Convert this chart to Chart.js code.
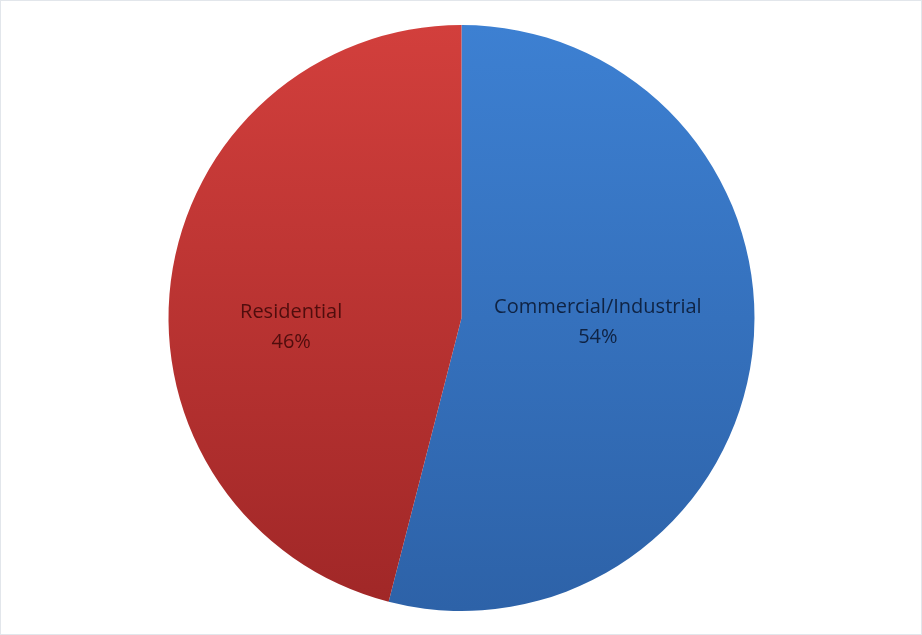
<!DOCTYPE html>
<html>
<head>
<meta charset="utf-8">
<script src="https://cdn.jsdelivr.net/npm/chart.js@4.4.0/dist/chart.umd.min.js"></script>
<style>
  html, body { margin: 0; padding: 0; background: #fff; }
  canvas { display: block; }
</style>
</head>
<body>
<canvas id="pie" width="922" height="635"></canvas>
<script>
// ─── Data ───────────────────────────────────────────────
const labels   = ['Commercial/Industrial', 'Residential'];
const shares   = [54, 46];
const topCols  = ['#3d80d2', '#d23f3c'];
const botCols  = ['#2d62a8', '#a02727'];

// label nudges (px) relative to each arc's centre point
const labelNudge = [[-9, -14], [-25, 28]];

function sliceFill(ctx) {
  const chart = ctx.chart;
  const area = chart.chartArea;
  if (!area) return topCols[ctx.dataIndex];
  const g = chart.ctx.createLinearGradient(0, area.top, 0, area.bottom);
  g.addColorStop(0, topCols[ctx.dataIndex]);
  g.addColorStop(1, botCols[ctx.dataIndex]);
  return g;
}

const frame = {
  id: 'frame',
  afterDraw(chart) {
    const c = chart.ctx;
    c.save();
    c.strokeStyle = '#e2e6eb';
    c.lineWidth = 1;
    c.strokeRect(0.5, 0.5, chart.width - 1, chart.height - 1);
    c.restore();
  },
};

const sliceLabels = {
  id: 'sliceLabels',
  afterDatasetsDraw(chart) {
    const c = chart.ctx;
    const meta = chart.getDatasetMeta(0);
    c.save();
    c.font = '20px "Open Sans", sans-serif';
    c.textAlign = 'center';
    c.textBaseline = 'middle';
    meta.data.forEach((arc, i) => {
      const p = arc.tooltipPosition();
      const x = p.x + labelNudge[i][0];
      const y = p.y + labelNudge[i][1];
      c.fillStyle = i === 0 ? 'rgba(12,28,56,0.92)' : 'rgba(70,10,10,0.92)';
      c.fillText(labels[i], x, y - 15);
      c.fillText(shares[i] + '%', x, y + 15);
    });
    c.restore();
  },
};

new Chart(document.getElementById('pie'), {
  type: 'pie',
  data: {
    labels,
    datasets: [{
      data: shares,
      backgroundColor: sliceFill,
      borderWidth: 0,
    }],
  },
  options: {
    responsive: false,
    animation: false,
    layout: { padding: { top: 25, bottom: 24, left: 168, right: 167 } },
    plugins: {
      legend: { display: false },
      tooltip: { enabled: false },
    },
  },
  plugins: [frame, sliceLabels],
});
</script>
</body>
</html>
